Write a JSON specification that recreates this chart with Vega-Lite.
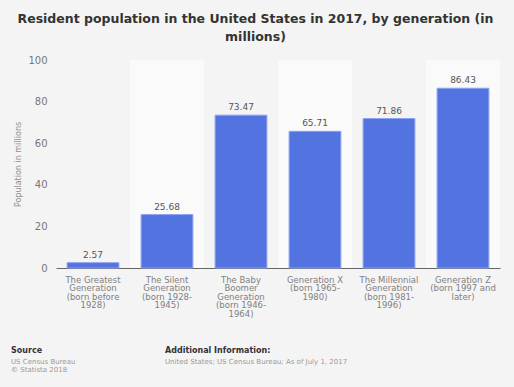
{
  "$schema": "https://vega.github.io/schema/vega-lite/v6.json",
  "background": "#f4f4f4",
  "autosize": {"type": "pad"},
  "padding": {"left": 11, "top": 12, "right": 14, "bottom": 4},
  "bounds": "flush",
  "spacing": 106,
  "title": {
    "text": ["Resident population in the United States in 2017, by generation (in", "millions)"],
    "font": "DejaVu Sans",
    "fontSize": 12.5,
    "fontWeight": "bold",
    "color": "#333333",
    "lineHeight": 18,
    "anchor": "middle",
    "offset": 12
  },
  "config": {
    "view": {"stroke": null},
    "font": "DejaVu Sans"
  },
  "datasets": {
    "gen": [
      {"generation": "The Greatest Generation (born before 1928)", "value": 2.57},
      {"generation": "The Silent Generation (born 1928-1945)", "value": 25.68},
      {"generation": "The Baby Boomer Generation (born 1946-1964)", "value": 73.47},
      {"generation": "Generation X (born 1965-1980)", "value": 65.71},
      {"generation": "The Millennial Generation (born 1981-1996)", "value": 71.86},
      {"generation": "Generation Z (born 1997 and later)", "value": 86.43}
    ]
  },
  "vconcat": [
    {
      "width": 444,
      "height": 208,
      "data": {"name": "gen"},
      "encoding": {
        "x": {
          "field": "generation",
          "type": "nominal",
          "sort": null,
          "scale": {
            "domain": [
              "The Greatest Generation (born before 1928)",
              "The Silent Generation (born 1928-1945)",
              "The Baby Boomer Generation (born 1946-1964)",
              "Generation X (born 1965-1980)",
              "The Millennial Generation (born 1981-1996)",
              "Generation Z (born 1997 and later)"
            ],
            "paddingInner": 0.3,
            "paddingOuter": 0.15
          },
          "axis": {
            "title": null,
            "labelExpr": "split(replace(replace(replace(replace(replace(replace(datum.value, 'The Greatest Generation (born before 1928)', 'The Greatest|Generation|(born before|1928)'), 'The Silent Generation (born 1928-1945)', 'The Silent|Generation|(born 1928-|1945)'), 'The Baby Boomer Generation (born 1946-1964)', 'The Baby|Boomer|Generation|(born 1946-|1964)'), 'Generation X (born 1965-1980)', 'Generation X|(born 1965-|1980)'), 'The Millennial Generation (born 1981-1996)', 'The Millennial|Generation|(born 1981-|1996)'), 'Generation Z (born 1997 and later)', 'Generation Z|(born 1997 and|later)'), '|')",
            "labelAngle": 0,
            "labelFontSize": 8.5,
            "labelColor": "#808080",
            "labelLineHeight": 8.5,
            "labelPadding": 7,
            "labelBaseline": "top",
            "ticks": false,
            "domainColor": "#666666",
            "domainWidth": 1,
            "grid": false
          }
        }
      },
      "layer": [
        {
          "transform": [{"filter": {"field": "generation", "oneOf": ["The Silent Generation (born 1928-1945)", "Generation X (born 1965-1980)", "Generation Z (born 1997 and later)"]}}],
          "mark": {"type": "bar", "color": "#fafafa", "width": {"band": 1.4286}},
          "encoding": {
            "y": {"datum": 100, "type": "quantitative"},
            "y2": {"datum": 0}
          }
        },
        {
          "mark": {"type": "bar", "color": "#5273e0", "stroke": "#8ea4ef", "strokeWidth": 1},
          "encoding": {
            "y": {
              "field": "value",
              "type": "quantitative",
              "scale": {"domain": [0, 100], "nice": false},
              "axis": {
                "values": [0, 20, 40, 60, 80, 100],
                "title": "Population in millions",
                "titleFontSize": 8,
                "titleFontWeight": "normal",
                "titleColor": "#909090",
                "titlePadding": 5,
                "labelFontSize": 10,
                "labelColor": "#777777",
                "labelPadding": 9,
                "ticks": false,
                "domain": false,
                "gridColor": "#dddddd",
                "gridDash": [2, 2],
                "gridWidth": 1
              }
            }
          }
        },
        {
          "mark": {"type": "text", "dy": -8, "fontSize": 9, "color": "#555555"},
          "encoding": {
            "y": {"field": "value", "type": "quantitative"},
            "text": {"field": "value", "type": "quantitative", "format": ".2f"}
          }
        }
      ]
    },
    {
      "spacing": 0,
      "bounds": "flush",
      "hconcat": [
        {
          "width": 154,
          "height": 10,
          "data": {"values": [{}]},
          "mark": {"type": "text", "text": ""},
          "title": {
            "text": "Source",
            "subtitle": ["US Census Bureau", "© Statista 2018"],
            "anchor": "start",
            "frame": "group",
            "dx": -45,
            "fontSize": 8,
            "fontWeight": "bold",
            "color": "#333333",
            "subtitleFontSize": 7,
            "subtitleColor": "#999999",
            "subtitleLineHeight": 8.5,
            "subtitlePadding": 3,
            "offset": 0
          }
        },
        {
          "width": 290,
          "height": 10,
          "data": {"values": [{}]},
          "mark": {"type": "text", "text": ""},
          "title": {
            "text": "Additional Information:",
            "subtitle": ["United States; US Census Bureau; As of July 1, 2017", " "],
            "anchor": "start",
            "frame": "group",
            "dx": -45,
            "fontSize": 8,
            "fontWeight": "bold",
            "color": "#333333",
            "subtitleFontSize": 7,
            "subtitleColor": "#999999",
            "subtitleLineHeight": 8.5,
            "subtitlePadding": 3,
            "offset": 0
          }
        }
      ]
    }
  ]
}
